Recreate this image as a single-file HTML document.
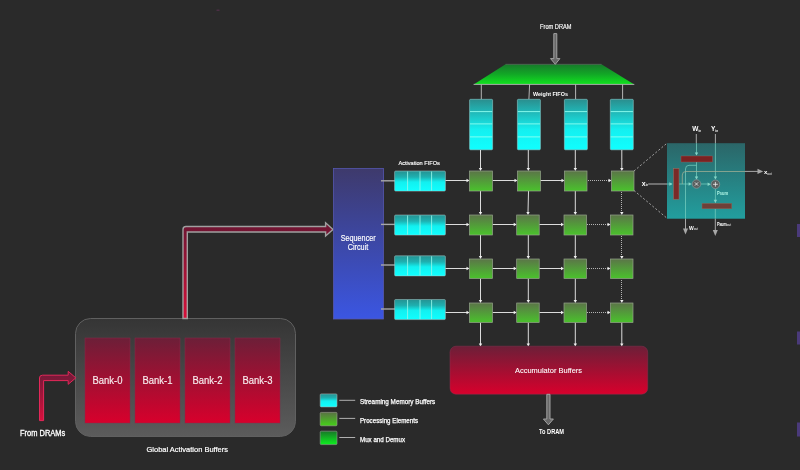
<!DOCTYPE html>
<html><head><meta charset="utf-8">
<style>
html,body{margin:0;padding:0;background:#2a2a2a;width:800px;height:470px;overflow:hidden}
svg{display:block;position:absolute;left:0;top:0;will-change:transform}
text{font-family:"Liberation Sans",sans-serif;fill:#fff}
</style></head><body>
<svg width="800" height="470" viewBox="0 0 800 470">
<defs>
<linearGradient id="gGroup" x1="0" y1="0" x2="0" y2="1"><stop offset="0" stop-color="#353535"/><stop offset="1" stop-color="#5c5c5c"/></linearGradient>
<linearGradient id="gRed" x1="0" y1="0" x2="0" y2="1"><stop offset="0" stop-color="#6c1f38"/><stop offset="1" stop-color="#d8002c"/></linearGradient>
<linearGradient id="gSeq" x1="0" y1="0" x2="0" y2="1"><stop offset="0" stop-color="#3e3a6c"/><stop offset="1" stop-color="#3b56e2"/></linearGradient>
<linearGradient id="gCyan" x1="0" y1="0" x2="0" y2="1"><stop offset="0" stop-color="#259292"/><stop offset="0.3" stop-color="#1eb0b0"/><stop offset="0.55" stop-color="#12f0f0"/><stop offset="1" stop-color="#10ffff"/></linearGradient>
<linearGradient id="gCyanW" x1="0" y1="0" x2="0" y2="1"><stop offset="0" stop-color="#2a8e8e"/><stop offset="0.6" stop-color="#14f0f0"/><stop offset="1" stop-color="#10ffff"/></linearGradient>
<linearGradient id="gPE" x1="0" y1="0" x2="0" y2="1"><stop offset="0" stop-color="#5b7548"/><stop offset="1" stop-color="#4ac22c"/></linearGradient>
<linearGradient id="gMux" x1="0" y1="0" x2="0" y2="1"><stop offset="0" stop-color="#177a2a"/><stop offset="0.5" stop-color="#12a826"/><stop offset="1" stop-color="#10e41e"/></linearGradient>
<linearGradient id="gArrSmall" x1="0" y1="0" x2="0" y2="1"><stop offset="0" stop-color="#6e1a38"/><stop offset="1" stop-color="#d8103c"/></linearGradient>
<linearGradient id="gArrBig" x1="0" y1="225" x2="0" y2="318" gradientUnits="userSpaceOnUse"><stop offset="0" stop-color="#6e1532"/><stop offset="1" stop-color="#d8103a"/></linearGradient>
<linearGradient id="gGray" x1="0" y1="0" x2="0" y2="1"><stop offset="0" stop-color="#8a8a8a"/><stop offset="1" stop-color="#6a6a6a"/></linearGradient>
<linearGradient id="gInset" x1="0" y1="0" x2="0" y2="1"><stop offset="0" stop-color="#2b6668"/><stop offset="1" stop-color="#229e9e"/></linearGradient>
<linearGradient id="gPEL" x1="0" y1="0" x2="0" y2="1"><stop offset="0" stop-color="#5a7244"/><stop offset="1" stop-color="#44d018"/></linearGradient>
<linearGradient id="gMuxL" x1="0" y1="0" x2="0" y2="1"><stop offset="0" stop-color="#177828"/><stop offset="1" stop-color="#0ef020"/></linearGradient>
</defs>

<!-- Global activation buffers group -->
<rect x="75.5" y="318.5" width="220" height="118" rx="15" fill="url(#gGroup)" stroke="#606060" stroke-width="1"/>
<rect x="85" y="338" width="45" height="85" fill="url(#gRed)" stroke="#8a2848" stroke-width="0.5"/>
<rect x="135" y="338" width="45" height="85" fill="url(#gRed)" stroke="#8a2848" stroke-width="0.5"/>
<rect x="185" y="338" width="45" height="85" fill="url(#gRed)" stroke="#8a2848" stroke-width="0.5"/>
<rect x="235" y="338" width="45" height="85" fill="url(#gRed)" stroke="#8a2848" stroke-width="0.5"/>
<g font-size="10" fill="#f2dde2">
<text x="107.5" y="384" text-anchor="middle" textLength="30" lengthAdjust="spacingAndGlyphs" style="fill:#f8eef0;stroke:#f8eef0;stroke-width:0.15">Bank-0</text>
<text x="157.5" y="384" text-anchor="middle" textLength="30" lengthAdjust="spacingAndGlyphs" style="fill:#f8eef0;stroke:#f8eef0;stroke-width:0.15">Bank-1</text>
<text x="207.5" y="384" text-anchor="middle" textLength="30" lengthAdjust="spacingAndGlyphs" style="fill:#f8eef0;stroke:#f8eef0;stroke-width:0.15">Bank-2</text>
<text x="257.5" y="384" text-anchor="middle" textLength="30" lengthAdjust="spacingAndGlyphs" style="fill:#f8eef0;stroke:#f8eef0;stroke-width:0.15">Bank-3</text>
</g>
<text x="146.5" y="451.5" font-size="8" textLength="81.5" lengthAdjust="spacingAndGlyphs" style="stroke:#fff;stroke-width:0.2">Global Activation Buffers</text>

<!-- From DRAMs arrow -->
<path d="M39.5,420.6 L39.5,378 Q39.5,375.2 42.3,375.2 L68.2,375.2 L68.2,371.3 L75.8,377.9 L68.2,384.3 L68.2,380.6 L43.6,380.6 L43.6,420.6 Z" fill="url(#gArrSmall)" stroke="#e4285a" stroke-width="1" stroke-linejoin="miter"/>
<text x="20" y="436.2" font-size="8.3" textLength="45.3" lengthAdjust="spacingAndGlyphs" style="stroke:#fff;stroke-width:0.3">From DRAMs</text>

<!-- Big arrow to sequencer -->
<path d="M183,318.5 L183,229.5 Q183,226.5 186,226.5 L325.6,226.5 L325.6,222.8 L333,229.4 L325.6,236 L325.6,232 L187.3,232 L187.3,318.5 Z" fill="url(#gArrBig)" stroke="#a0a0a0" stroke-width="1.4"/>

<!-- Sequencer -->
<rect x="333.5" y="168.5" width="50" height="150.5" fill="url(#gSeq)" stroke="#5558b0" stroke-width="0.8"/>
<text x="358.2" y="241" font-size="8.2" text-anchor="middle" textLength="35" style="stroke:#fff;stroke-width:0.15" lengthAdjust="spacingAndGlyphs">Sequencer</text>
<text x="358" y="250.3" font-size="8.2" text-anchor="middle" textLength="20.5" style="stroke:#fff;stroke-width:0.15" lengthAdjust="spacingAndGlyphs">Circuit</text>

<!-- seq -> FIFO connectors -->
<g stroke="#a8a8a8" stroke-width="1.4">
<line x1="381" y1="180.8" x2="395" y2="180.8"/>
<line x1="381" y1="224.4" x2="395" y2="224.4"/>
<line x1="381" y1="265" x2="395" y2="265"/>
<line x1="381" y1="309" x2="395" y2="309"/>
</g>

<!-- Activation FIFOs -->
<text x="398.4" y="165.2" font-size="5.9" textLength="41.5" lengthAdjust="spacingAndGlyphs" style="stroke:#fff;stroke-width:0.15">Activation FIFOs</text>
<g id="fifo1">
<rect x="394.6" y="171" width="50.8" height="20.1" rx="1" fill="url(#gCyan)" stroke="#a8cccc" stroke-width="0.5"/>
<g stroke="#90f4e8" stroke-width="0.9"><line x1="407.6" y1="171.5" x2="407.6" y2="190.6"/><line x1="420" y1="171.5" x2="420" y2="190.6"/><line x1="431.6" y1="171.5" x2="431.6" y2="190.6"/></g>
</g>
<use href="#fifo1" y="44"/>
<use href="#fifo1" y="84.8"/>
<use href="#fifo1" y="128.5"/>

<!-- Trapezoid mux -->
<path d="M505.5,64.3 L601.5,64.3 L634.3,84.4 L473.6,84.4 Z" fill="url(#gMux)"/>
<line x1="473.6" y1="84.4" x2="634.3" y2="84.4" stroke="#a8a8a8" stroke-width="1"/>
<line x1="505.5" y1="64.3" x2="601.5" y2="64.3" stroke="#6a6a6a" stroke-width="0.6"/>
<text x="533.1" y="96.3" font-size="5.8" font-weight="bold" textLength="34.8" lengthAdjust="spacingAndGlyphs">Weight FIFOs</text>

<!-- From DRAM gray arrow -->
<path d="M553.8,33.6 L556.8,33.6 L556.8,58.6 L559.9,58.6 L555.3,64.3 L550.5,58.6 L553.8,58.6 Z" fill="#686868" stroke="#acacac" stroke-width="0.9"/>
<text x="540.1" y="28.9" font-size="7" textLength="31.4" lengthAdjust="spacingAndGlyphs" style="stroke:#fff;stroke-width:0.15">From DRAM</text>

<!-- trapezoid -> weight fifo connectors -->
<g stroke="#c4c4c4" stroke-width="0.9">
<line x1="481.3" y1="84.5" x2="481.3" y2="99.3"/>
<line x1="529.6" y1="84.5" x2="528.9" y2="99.3"/>
<line x1="575.6" y1="84.5" x2="575.6" y2="99.3"/>
<line x1="622.6" y1="84.5" x2="622.6" y2="99.3"/>
</g>

<!-- Weight FIFOs -->
<g id="wf1">
<rect x="469.6" y="99.3" width="23" height="50.5" rx="1" fill="url(#gCyanW)" stroke="#9adede" stroke-width="0.5"/>
<g stroke="#90fff0" stroke-width="0.9"><line x1="470" y1="111.6" x2="492.2" y2="111.6"/><line x1="470" y1="123.9" x2="492.2" y2="123.9"/><line x1="470" y1="136.9" x2="492.2" y2="136.9"/></g>
</g>
<use href="#wf1" x="47.8"/>
<use href="#wf1" x="94.8"/>
<use href="#wf1" x="140.7"/>

<!-- Grid connectors -->
<g stroke="#dcdcdc" stroke-width="1" fill="none">
<line x1="480.5" y1="150" x2="480.5" y2="168"/>
<line x1="528.3" y1="150" x2="528.3" y2="168"/>
<line x1="575.3" y1="150" x2="575.3" y2="168"/>
<line x1="621.8" y1="150" x2="621.8" y2="168"/>
<line x1="445.5" y1="180.5" x2="467" y2="180.5"/>
<line x1="445.5" y1="224.5" x2="467" y2="224.5"/>
<line x1="445.5" y1="268.5" x2="467" y2="268.5"/>
<line x1="445.5" y1="312.5" x2="467" y2="312.5"/>
<line x1="492.5" y1="180.5" x2="515.0" y2="180.5"/>
<line x1="540.0" y1="180.5" x2="562.0" y2="180.5"/>
<line x1="492.5" y1="224.5" x2="514.2" y2="224.5"/>
<line x1="539.2" y1="224.5" x2="561.5" y2="224.5"/>
<line x1="492.5" y1="268.5" x2="514.2" y2="268.5"/>
<line x1="539.2" y1="268.5" x2="561.5" y2="268.5"/>
<line x1="492.5" y1="312.5" x2="514.2" y2="312.5"/>
<line x1="539.2" y1="312.5" x2="561.5" y2="312.5"/>
<line x1="480.5" y1="191" x2="480.5" y2="212.5"/>
<line x1="528.5" y1="191" x2="528.0" y2="212.5"/>
<line x1="575.3" y1="191" x2="575.3" y2="212.5"/>
<line x1="480.5" y1="235" x2="480.5" y2="256.5"/>
<line x1="528.3" y1="235" x2="528.3" y2="256.5"/>
<line x1="575.3" y1="235" x2="575.3" y2="256.5"/>
<line x1="480.5" y1="278.5" x2="480.5" y2="300.5"/>
<line x1="528.3" y1="278.5" x2="528.3" y2="300.5"/>
<line x1="575.3" y1="278.5" x2="575.3" y2="300.5"/>
<line x1="480.5" y1="322.5" x2="480.5" y2="344"/>
<line x1="528.3" y1="322.5" x2="528.3" y2="344"/>
<line x1="575.3" y1="322.5" x2="575.3" y2="344"/>
<line x1="621.8" y1="322.5" x2="621.8" y2="344"/>
</g>
<g stroke="#b4b4b4" stroke-width="1" stroke-dasharray="1,1" fill="none">
<line x1="588" y1="180.5" x2="609" y2="180.5"/>
<line x1="587" y1="224.5" x2="608" y2="224.5"/>
<line x1="587" y1="268.5" x2="608" y2="268.5"/>
<line x1="587" y1="312.5" x2="608" y2="312.5"/>
<line x1="621.5" y1="192" x2="621.5" y2="212"/>
<line x1="621.5" y1="236" x2="621.5" y2="256"/>
<line x1="621.5" y1="280" x2="621.5" y2="300"/>
</g>
<g fill="#f0f0f0">
<path d="M480.5,171 L478.8,168 L482.2,168 Z"/>
<path d="M528.3,171 L526.5999999999999,168 L530.0,168 Z"/>
<path d="M575.3,171 L573.5999999999999,168 L577.0,168 Z"/>
<path d="M621.8,171 L620.0999999999999,168 L623.5,168 Z"/>
<path d="M469.5,180.5 L466.5,178.8 L466.5,182.2 Z"/>
<path d="M469.5,224.5 L466.5,222.8 L466.5,226.2 Z"/>
<path d="M469.5,268.5 L466.5,266.8 L466.5,270.2 Z"/>
<path d="M469.5,312.5 L466.5,310.8 L466.5,314.2 Z"/>
<path d="M517.5,180.5 L514.5,178.8 L514.5,182.2 Z"/>
<path d="M564.5,180.5 L561.5,178.8 L561.5,182.2 Z"/>
<path d="M611.5,180.5 L608.5,178.8 L608.5,182.2 Z"/>
<path d="M516.7,224.5 L513.7,222.8 L513.7,226.2 Z"/>
<path d="M564,224.5 L561,222.8 L561,226.2 Z"/>
<path d="M610.5,224.5 L607.5,222.8 L607.5,226.2 Z"/>
<path d="M516.7,268.5 L513.7,266.8 L513.7,270.2 Z"/>
<path d="M564,268.5 L561,266.8 L561,270.2 Z"/>
<path d="M610.5,268.5 L607.5,266.8 L607.5,270.2 Z"/>
<path d="M516.7,312.5 L513.7,310.8 L513.7,314.2 Z"/>
<path d="M564,312.5 L561,310.8 L561,314.2 Z"/>
<path d="M610.5,312.5 L607.5,310.8 L607.5,314.2 Z"/>
<path d="M480.5,215 L478.8,212 L482.2,212 Z"/>
<path d="M528.0,215 L526.3,212 L529.7,212 Z"/>
<path d="M575.3,215 L573.5999999999999,212 L577.0,212 Z"/>
<path d="M621.8,215 L620.0999999999999,212 L623.5,212 Z"/>
<path d="M480.5,259 L478.8,256 L482.2,256 Z"/>
<path d="M528.3,259 L526.5999999999999,256 L530.0,256 Z"/>
<path d="M575.3,259 L573.5999999999999,256 L577.0,256 Z"/>
<path d="M621.8,259 L620.0999999999999,256 L623.5,256 Z"/>
<path d="M480.5,303 L478.8,300 L482.2,300 Z"/>
<path d="M528.3,303 L526.5999999999999,300 L530.0,300 Z"/>
<path d="M575.3,303 L573.5999999999999,300 L577.0,300 Z"/>
<path d="M621.8,303 L620.0999999999999,300 L623.5,300 Z"/>
<path d="M480.5,346.5 L478.8,343.5 L482.2,343.5 Z"/>
<path d="M528.3,346.5 L526.5999999999999,343.5 L530.0,343.5 Z"/>
<path d="M575.3,346.5 L573.5999999999999,343.5 L577.0,343.5 Z"/>
<path d="M621.8,346.5 L620.0999999999999,343.5 L623.5,343.5 Z"/>
</g>
<!-- PEs -->
<g fill="url(#gPE)" stroke="#94a48a" stroke-width="0.7">
<rect x="469.5" y="171" width="23" height="20"/>
<rect x="517.5" y="171" width="23" height="20"/>
<rect x="564.5" y="171" width="22.5" height="20"/>
<rect x="611.5" y="171" width="22.5" height="20"/>
<rect x="469.5" y="215" width="23" height="20"/>
<rect x="516.7" y="215" width="22.5" height="20"/>
<rect x="564" y="215" width="22.5" height="20"/>
<rect x="610.5" y="215" width="22.5" height="20"/>
<rect x="469.5" y="259" width="23" height="19.5"/>
<rect x="516.7" y="259" width="22.5" height="19.5"/>
<rect x="564" y="259" width="22.5" height="19.5"/>
<rect x="610.5" y="259" width="22.5" height="19.5"/>
<rect x="469.5" y="303" width="23" height="19.5"/>
<rect x="516.7" y="303" width="22.5" height="19.5"/>
<rect x="564" y="303" width="22.5" height="19.5"/>
<rect x="610.5" y="303" width="22.5" height="19.5"/>
</g>
<!-- Accumulator -->
<rect x="450" y="346.2" width="197.7" height="48" rx="6" fill="url(#gRed)" stroke="#8a3050" stroke-width="0.5"/>
<text x="515" y="372.6" font-size="7.8" textLength="67" lengthAdjust="spacingAndGlyphs" style="fill:#fff;stroke:#fff;stroke-width:0.08">Accumulator Buffers</text>

<!-- To DRAM arrow -->
<path d="M546.8,394.3 L550,394.3 L550,419 L553.4,419 L548.4,424.8 L543.4,419 L546.8,419 Z" fill="#686868" stroke="#acacac" stroke-width="0.9"/>
<text x="539" y="433.8" font-size="6.4" font-weight="bold" textLength="25" lengthAdjust="spacingAndGlyphs">To DRAM</text>

<!-- Legend -->
<rect x="320.2" y="393.9" width="16.8" height="13" rx="1" fill="url(#gCyan)" stroke="#a0b0b0" stroke-width="0.6"/>
<rect x="320.2" y="412.4" width="16.8" height="13.4" rx="1" fill="url(#gPEL)" stroke="#a0a890" stroke-width="0.6"/>
<rect x="320.2" y="431.2" width="16.8" height="13.4" rx="1" fill="url(#gMuxL)" stroke="#90a090" stroke-width="0.6"/>
<g stroke="#b0b0b0" stroke-width="1">
<line x1="339.3" y1="400.3" x2="355.2" y2="400.3"/>
<line x1="339.3" y1="418.4" x2="355.2" y2="418.4"/>
<line x1="339.3" y1="437.5" x2="355.2" y2="437.5"/>
</g>
<g font-size="6.6" style="stroke:#fff;stroke-width:0.25">
<text x="360" y="404" textLength="75.2" lengthAdjust="spacingAndGlyphs">Streaming Memory Buffers</text>
<text x="360" y="423" textLength="58" lengthAdjust="spacingAndGlyphs">Processing Elements</text>
<text x="360" y="441.7" textLength="45" lengthAdjust="spacingAndGlyphs">Mux and Demux</text>
</g>

<!-- Zoom dashed lines -->
<g stroke="#b0b0b0" stroke-width="0.9" stroke-dasharray="2,2">
<line x1="634" y1="171" x2="667" y2="143.2"/>
<line x1="634" y1="190.5" x2="666.5" y2="217.8"/>
</g>

<!-- Inset -->
<rect x="667" y="143.2" width="78" height="75.5" fill="url(#gInset)"/>
<!-- x_in -->
<text x="641.8" y="185.6" font-size="7" font-weight="bold">x<tspan font-size="2.6" dy="0.5">in</tspan></text>
<line x1="648.2" y1="184" x2="667" y2="184" stroke="#a8a8a8" stroke-width="1.1"/>
<!-- W_in / Y_in -->
<text x="692.3" y="131" font-size="6.5" font-weight="bold">W<tspan font-size="3" dy="0.5">in</tspan></text>
<text x="711" y="131" font-size="6.5" font-weight="bold">Y<tspan font-size="3.2" dy="0.5">in</tspan></text>
<g stroke="#a8a8a8" stroke-width="1">
<line x1="696.3" y1="134" x2="696.3" y2="143.2"/>
<line x1="715.4" y1="134" x2="715.4" y2="143.2"/>
<line x1="745" y1="171.4" x2="759" y2="171.4"/>
<line x1="685.5" y1="218.7" x2="685.5" y2="229"/>
<line x1="715.3" y1="218.7" x2="715.3" y2="230"/>
</g>
<g fill="#a8a8a8">
<path d="M763.2,171.4 L757.5,168.7 L757.5,174.1 Z"/>
<path d="M685.5,234.5 L683,228.5 L688,228.5 Z"/>
<path d="M715.3,236 L712.8,230 L717.8,230 Z"/>
</g>
<g stroke="#76cdbf" stroke-width="0.75" fill="none">
<line x1="696.5" y1="143.2" x2="696.5" y2="155"/>
<line x1="715.4" y1="143.2" x2="715.4" y2="178"/>
<line x1="667" y1="184" x2="672" y2="184"/>
<line x1="679" y1="184" x2="690" y2="184"/>
<line x1="701" y1="184" x2="709.5" y2="184"/>
<line x1="696.5" y1="162" x2="696.5" y2="178.5"/>
<path d="M696.5,165.3 L689,165.3 Q685.5,165.3 685.5,169 L685.5,218.7"/>
<line x1="715.4" y1="189" x2="715.4" y2="202.5"/>
<line x1="715.3" y1="208.8" x2="715.3" y2="218.7"/>
</g>
<path d="M682.3,184 L682.3,175 Q682.3,171.5 685.8,171.5 L745,171.5" stroke="#a2b096" stroke-width="0.75" fill="none"/>
<g fill="#86d6c8">
<path d="M672.5,184 L669.3,182.3 L669.3,185.7 Z"/>
<path d="M691.8,184 L688.6,182.3 L688.6,185.7 Z"/>
<path d="M710.8,184.2 L707.6,182.5 L707.6,185.9 Z"/>
<path d="M696.5,155.6 L694.8,152.4 L698.2,152.4 Z"/>
<path d="M696.5,179.6 L694.8,176.4 L698.2,176.4 Z"/>
<path d="M715.4,179.6 L713.7,176.4 L717.1,176.4 Z"/>
<path d="M715.4,203 L713.7,199.8 L717.1,199.8 Z"/>
</g>
<rect x="681" y="156" width="31.5" height="6" fill="#7a2222" stroke="#a0605a" stroke-width="0.4"/>
<rect x="673.6" y="168.7" width="5.4" height="30.5" fill="#7a2a28" stroke="#a86858" stroke-width="0.5"/>
<rect x="702" y="203.3" width="29.8" height="5.5" fill="#6e4038" stroke="#907060" stroke-width="0.4"/>
<circle cx="696.5" cy="184" r="4.3" fill="#5a6060" stroke="#8a9a9a" stroke-width="0.7"/>
<circle cx="715.4" cy="184.3" r="4.3" fill="#5a6060" stroke="#8a9a9a" stroke-width="0.7"/>
<g stroke="#f0f0f0" stroke-width="0.8">
<line x1="694.9" y1="182.4" x2="698.1" y2="185.6"/><line x1="698.1" y1="182.4" x2="694.9" y2="185.6"/>
<line x1="713" y1="184.3" x2="717.8" y2="184.3"/><line x1="715.4" y1="181.9" x2="715.4" y2="186.7"/>
</g>
<text x="717" y="195" font-size="5" font-weight="bold" textLength="11" lengthAdjust="spacingAndGlyphs" style="fill:#aef6e6">Psum</text>
<text x="764" y="174" font-size="6" font-weight="bold">x<tspan font-size="3" dy="0.8" font-weight="normal">out</tspan></text>
<text x="689" y="229.5" font-size="5" font-weight="bold">W<tspan font-size="3" dy="0.6" font-weight="normal">out</tspan></text>
<text x="717" y="225.5" font-size="4.5" textLength="9.5" lengthAdjust="spacingAndGlyphs" style="stroke:#fff;stroke-width:0.15">Psum</text><text x="726.8" y="226.3" font-size="3">out</text>

<!-- right edge markers -->
<rect x="216.5" y="9.5" width="3" height="1.5" fill="#5a3050" opacity="0.7"/>
<rect x="797" y="224" width="3" height="13" fill="#4a3a7a"/>
<rect x="797" y="331.5" width="3" height="13" fill="#4a3a7a"/>
<rect x="797" y="422.5" width="3" height="14" fill="#4a3a7a"/>
</svg>
</body></html>
